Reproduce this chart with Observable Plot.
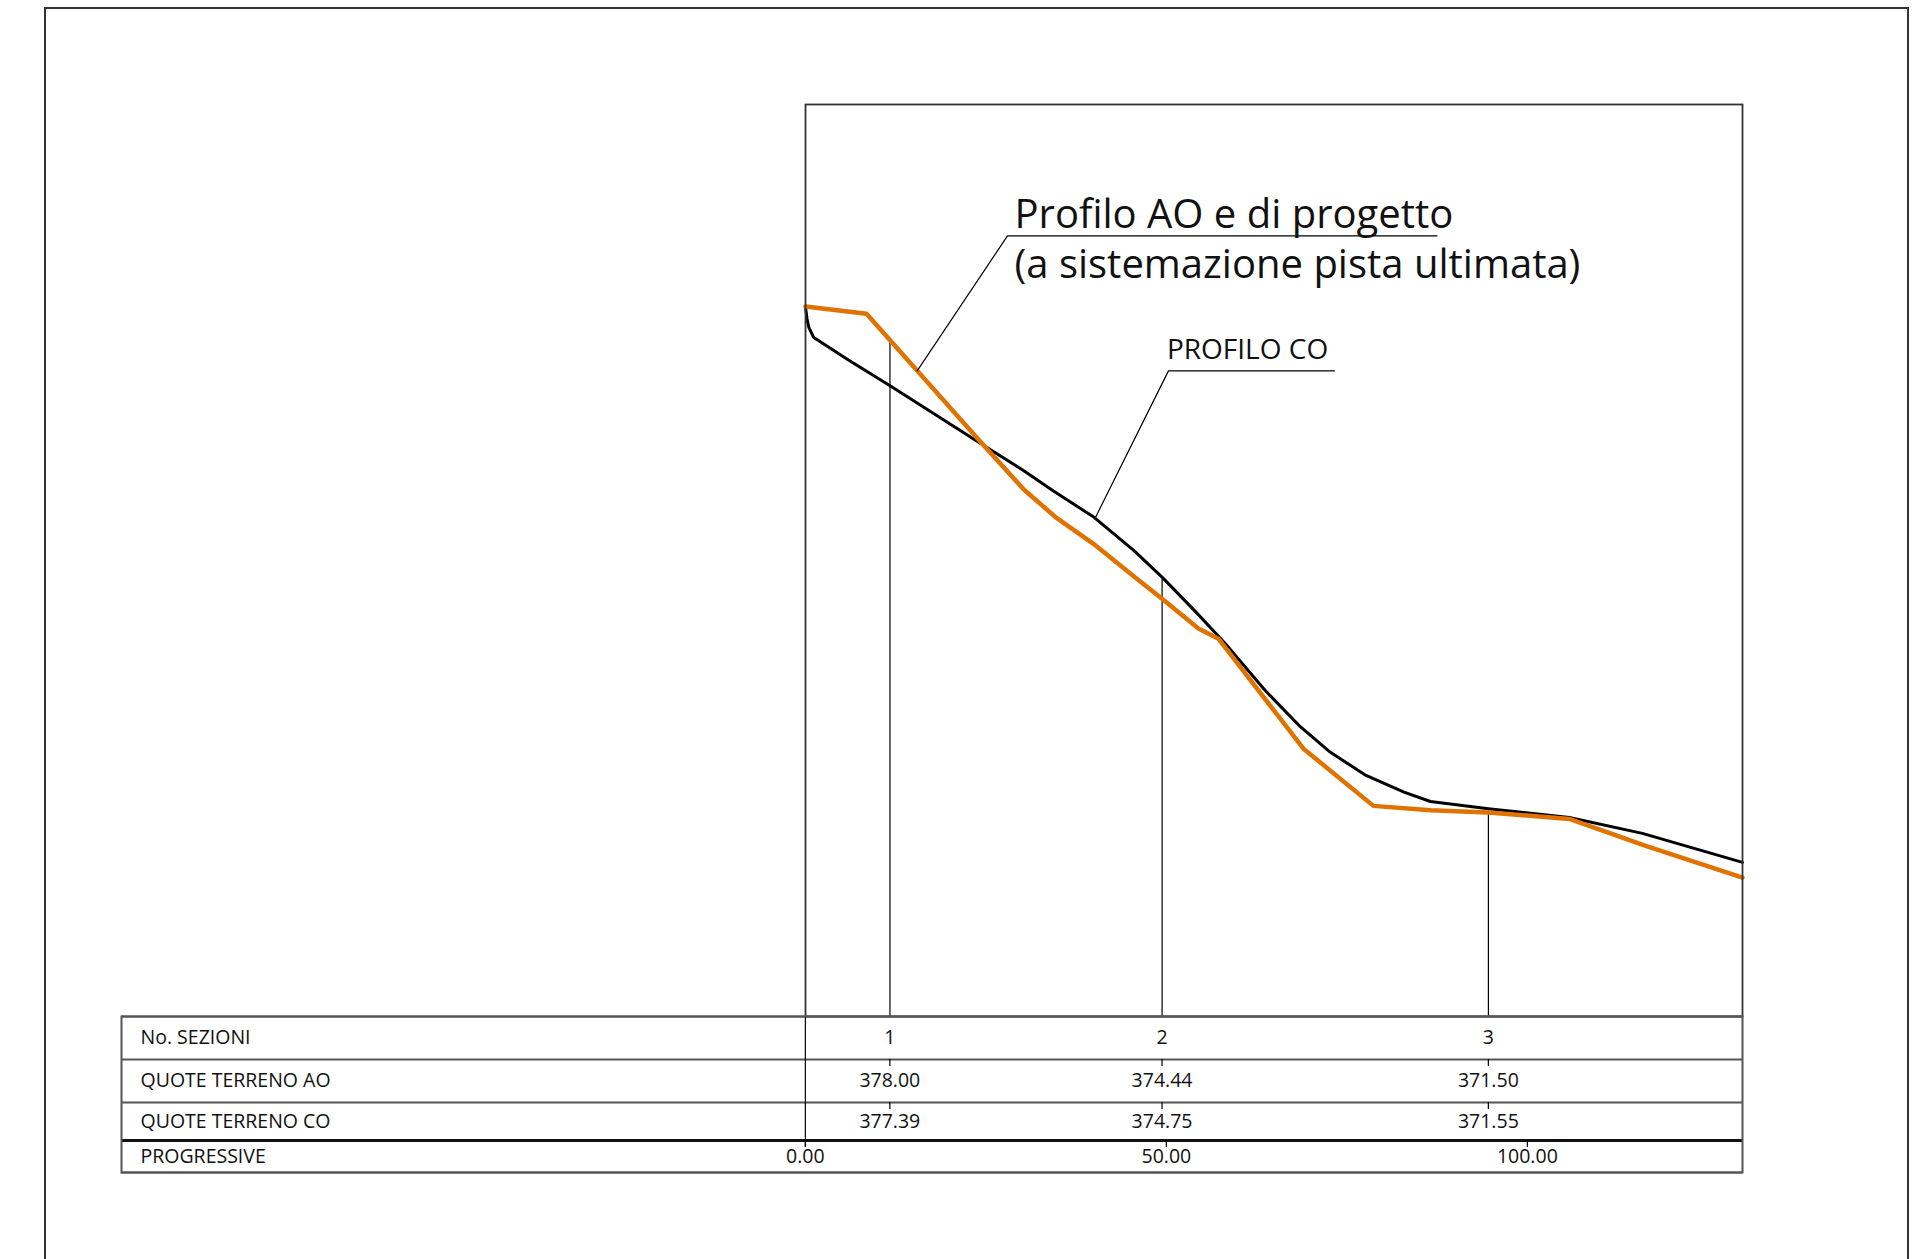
<!DOCTYPE html>
<html><head><meta charset="utf-8">
<script src="https://cdn.jsdelivr.net/npm/d3@7"></script>
<script src="https://cdn.jsdelivr.net/npm/@observablehq/plot@0.6"></script>
<style>
html,body{margin:0;padding:0;background:#fff;width:1929px;height:1259px;overflow:hidden;}
#page{position:relative;width:1929px;height:1259px;}
#border{position:absolute;left:44px;top:7px;width:1861px;height:1300px;border:2px solid #333;border-bottom:none;box-sizing:content-box;}
#profile{position:absolute;left:0;top:0;}
#table{position:absolute;left:0;top:1006px;}
</style></head><body>
<div id="page"><div id="border"></div><div id="profile"></div><div id="table"></div></div>
<script>
// ---- data (progressive in m, elevation in m a.s.l.) ----
const coX = [0, 0.21, 0.46, 1.15, 5.78, 11.77, 24.70, 30.24, 34.35, 39.93, 45.47, 49.5, 54.16, 58.17, 63.71, 68.38, 72.71, 77.65, 82.91, 86.57, 94.60, 105.82, 115.93, 129.8];
const coZ = [378.48, 378.32, 378.20, 378.06, 377.76, 377.39, 376.57, 376.22, 375.94, 375.58, 375.12, 374.74, 374.26, 373.83, 373.18, 372.70, 372.33, 372.01, 371.78, 371.65, 371.55, 371.43, 371.21, 370.81];
const aoX = [0, 8.45, 24.70, 30.24, 34.63, 39.89, 45.98, 49.52, 54.43, 57.20, 68.98, 78.67, 86.57, 94.60, 105.82, 116.29, 129.8];
const aoZ = [378.49, 378.39, 376.57, 375.96, 375.58, 375.21, 374.72, 374.44, 374.04, 373.90, 372.38, 371.59, 371.53, 371.50, 371.41, 371.04, 370.60];
const sectionNames = ["1", "2", "3"];
const sectionX = [11.7, 49.4, 94.6];
const quoteAO = [378.00, 374.44, 371.50];
const quoteCO = [377.39, 374.75, 371.55];
const progressiveTicks = [0, 50, 100];
const rowLabels = ["No. SEZIONI", "QUOTE TERRENO AO", "QUOTE TERRENO CO", "PROGRESSIVE"];
const labelAO = "Profilo AO e di progetto\n(a sistemazione pista ultimata)";
const labelCO = "PROFILO CO";

// ---- layout ----
const xMax = 129.8;
const yDom = [368.68, 381.28];
const ORANGE = "#E07300";
const FONT = "'Open Sans', sans-serif";
// annotation anchor points (data units)
const leaderAO = [[15.47, 377.60], [27.98, 379.465], [87.48, 379.465]];
const leaderCO = [[40.17, 375.575], [50.28, 377.60], [73.27, 377.60]];
const textAOpos = [28.95, 378.885];
const textCOpos = [50.07, 377.762];
const rowEdges = [0, 43, 86, 124, 156];

const co = coX.map((x, i) => ({x, z: coZ[i]}));
const ao = aoX.map((x, i) => ({x, z: aoZ[i]}));
const sections = sectionNames.map((n, i) => ({name: n, x: sectionX[i], ao: quoteAO[i], co: quoteCO[i]}));
const leaders = [
  ...leaderAO.map(([x, z]) => ({id: "ao", x, z})),
  ...leaderCO.map(([x, z]) => ({id: "co", x, z}))
];

const profile = Plot.plot({
  width: 1929, height: 1016,
  marginLeft: 805, marginRight: 187, marginTop: 104, marginBottom: 0,
  x: {domain: [0, xMax], axis: null},
  y: {domain: yDom, axis: null},
  style: {fontFamily: FONT, background: "transparent", overflow: "visible", color: "#111"},
  marks: [
    Plot.ruleX(sections, {x: "x", y1: d => Math.max(d.ao, d.co), y2: yDom[0], stroke: "#000", strokeWidth: 1.2}),
    Plot.line(co, {x: "x", y: "z", stroke: "#000", strokeWidth: 3}),
    Plot.line(ao, {x: "x", y: "z", stroke: ORANGE, strokeWidth: 4.5}),
    Plot.line(leaders, {x: "x", y: "z", z: "id", stroke: "#000", strokeWidth: 1.2}),
    Plot.text([labelAO], {x: () => textAOpos[0], y: () => textAOpos[1], text: d => d, textAnchor: "start", lineAnchor: "bottom", lineHeight: 1.25, fontSize: 40, fill: "#111"}),
    Plot.text([labelCO], {x: () => textCOpos[0], y: () => textCOpos[1], text: d => d, textAnchor: "start", lineAnchor: "bottom", fontSize: 28, fill: "#111"}),
    Plot.frame({stroke: "#333", strokeWidth: 1.8})
  ]
});
document.getElementById("profile").appendChild(profile);

const rowMid = i => (rowEdges[i] + rowEdges[i + 1]) / 2;
const table = Plot.plot({
  width: 1929, height: 176,
  marginLeft: 121, marginRight: 187, marginTop: 10, marginBottom: 10,
  x: {domain: [-94.72, xMax], axis: null},
  y: {domain: [rowEdges[0], rowEdges[4]], range: [10, 166], axis: null},
  style: {fontFamily: FONT, background: "transparent", overflow: "visible", color: "#111"},
  marks: [
    Plot.ruleY([rowEdges[0], rowEdges[1], rowEdges[2], rowEdges[4]], {stroke: "#555", strokeWidth: 2}),
    Plot.ruleY([rowEdges[3]], {stroke: "#111", strokeWidth: 3}),
    Plot.ruleX([0], {y1: rowEdges[0], y2: rowEdges[3] + 7, stroke: "#000", strokeWidth: 1.2}),
    Plot.ruleX(progressiveTicks, {y1: rowEdges[3], y2: rowEdges[3] + 7, stroke: "#000", strokeWidth: 1.2}),
    Plot.ruleX(sections, {x: "x", y1: rowEdges[1], y2: rowEdges[1] + 7, stroke: "#000", strokeWidth: 1.2}),
    Plot.ruleX(sections, {x: "x", y1: rowEdges[2], y2: rowEdges[2] + 7, stroke: "#000", strokeWidth: 1.2}),
    Plot.frame({stroke: "#555", strokeWidth: 2}),
    Plot.text(rowLabels, {frameAnchor: "left", y: (d, i) => rowMid(i), dx: 19, textAnchor: "start", fontSize: 19.5, fill: "#111"}),
    Plot.text(sections, {x: "x", y: () => rowMid(0), text: "name", fontSize: 19.5, fill: "#111"}),
    Plot.text(sections, {x: "x", y: () => rowMid(1), text: d => d.ao.toFixed(2), fontSize: 19.5, fill: "#111"}),
    Plot.text(sections, {x: "x", y: () => rowMid(2), text: d => d.co.toFixed(2), fontSize: 19.5, fill: "#111"}),
    Plot.text(progressiveTicks, {x: d => d, y: () => rowMid(3), text: d => d.toFixed(2), fontSize: 19.5, fill: "#111"})
  ]
});
document.getElementById("table").appendChild(table);
</script>
</body></html>
